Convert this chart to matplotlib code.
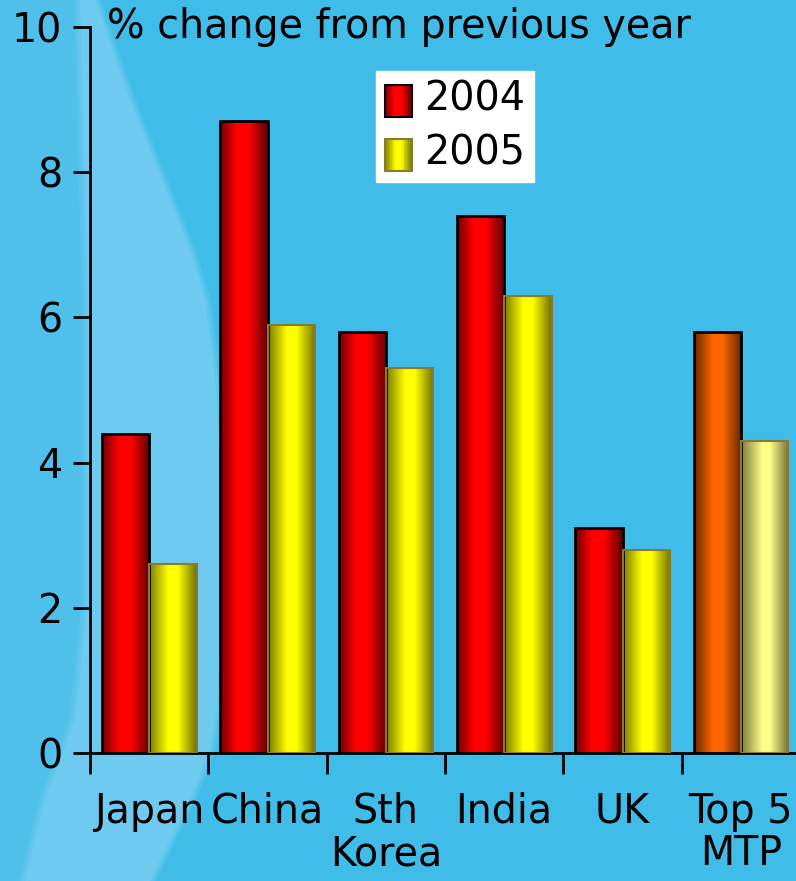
import numpy as np
import matplotlib
matplotlib.use("Agg")
import matplotlib.pyplot as plt
from matplotlib.colors import LinearSegmentedColormap
from matplotlib.patches import Rectangle
from matplotlib.legend_handler import HandlerBase

# data
categories = ["Japan", "China", "Sth\nKorea", "India", "UK", "Top 5\nMTP"]
vals_2004 = [4.4, 8.7, 5.8, 7.4, 3.1, 5.8]
vals_2005 = [2.6, 5.9, 5.3, 6.3, 2.8, 4.3]

# shading colours (edge, highlight)
red_cm = LinearSegmentedColormap.from_list("r", [(0, "#6e0000"), (0.35, "#ff0000"), (0.6, "#ff0000"), (1, "#5a0000")])
yel_cm = LinearSegmentedColormap.from_list("y", [(0, "#7a7a00"), (0.4, "#ffff00"), (0.6, "#ffff00"), (1, "#6e6e00")])
org_cm = LinearSegmentedColormap.from_list("o", [(0, "#6a2a00"), (0.4, "#ff6600"), (0.6, "#ff6600"), (1, "#5e2400")])
pal_cm = LinearSegmentedColormap.from_list("p", [(0, "#7a7a3a"), (0.45, "#ffff88"), (0.6, "#ffff88"), (1, "#707038")])

bg = "#40bce8"
fig = plt.figure(figsize=(7.96, 8.81), dpi=100, facecolor=bg)

# background swoosh (pixel coords)
axbg = fig.add_axes([0, 0, 1, 1], zorder=-5)
axbg.set_xlim(0, 796)
axbg.set_ylim(881, 0)
axbg.axis("off")
ys = np.linspace(0, 881, 300)
left_edge = np.interp(ys, [0, 300, 600, 720, 800, 881], [80, 88, 88, 75, 45, 25])
right_edge = np.interp(ys, [0, 50, 100, 150, 200, 250, 300, 375, 450, 600, 700, 750, 800, 840, 881],
                       [95, 112, 130, 150, 170, 190, 205, 215, 220, 222, 218, 210, 190, 170, 150])
axbg.fill_betweenx(ys, 0, right_edge, color="#4ec0ea", lw=0)
for d, a in [(6, 0.35), (3, 0.5), (0, 1.0)]:
    axbg.fill_betweenx(ys, left_edge - d, right_edge + d, color="#6ecbef", alpha=a, lw=0)

ax = fig.add_axes([90/796, 1-753/881, 710/796, (753-27)/881])
ax.set_facecolor("none")

x = np.arange(len(categories)) + 0.5
w = 0.4
grad = np.linspace(0, 1, 256).reshape(1, -1)

def shade(bars, cmaps, edge, lw):
    for b, cm in zip(bars, cmaps):
        x0, y0 = b.get_x(), b.get_y()
        im = ax.imshow(grad, cmap=cm, aspect="auto", zorder=2,
                       extent=(x0, x0 + b.get_width(), y0, y0 + b.get_height()))
        im.set_clip_path(b)
        b.set_facecolor("none")
        b.set_edgecolor(edge)
        b.set_linewidth(lw)
        b.set_zorder(3)

b1 = ax.bar(x - w/2, vals_2004, w)
b2 = ax.bar(x + w/2, vals_2005, w)
shade(b1, [red_cm]*5 + [org_cm], "black", 2)
shade(b2, [yel_cm]*5 + [pal_cm], "#8a7a30", 1.5)
ax.set_xlim(0, 6)
ax.set_ylim(0, 10)

for s in ["top", "right"]:
    ax.spines[s].set_visible(False)
for s in ["left", "bottom"]:
    ax.spines[s].set_linewidth(2)

fs = 28.5
ax.set_yticks([0, 2, 4, 6, 8, 10])
ax.tick_params(axis="y", length=12, width=2, labelsize=fs, pad=8)
ax.set_xticks(np.arange(0, 7))
ax.set_xticklabels([])
ax.tick_params(axis="x", which="major", length=15, width=2)
ax.set_xticks(x, minor=True)
ax.set_xticklabels(categories, minor=True, fontsize=fs, linespacing=1.08)
ax.tick_params(axis="x", which="minor", length=0, pad=28)

ax.text(0.024, 1.0, "% change from previous year", transform=ax.transAxes,
        fontsize=fs, va="center", ha="left")

class GradHandler(HandlerBase):
    def __init__(self, cm, edge):
        super().__init__()
        self.cm, self.edge = cm, edge
    def create_artists(self, legend, orig, xd, yd, width, height, fontsize, trans):
        arts = []
        n = 20
        for i in range(n):
            arts.append(Rectangle((xd + width*i/n, yd - 3), width/n + 0.3, height + 6,
                                  facecolor=self.cm((i + 0.5)/n), lw=0, transform=trans))
        arts.append(Rectangle((xd, yd - 3), width, height + 6, facecolor="none",
                              edgecolor=self.edge, lw=1.5, transform=trans))
        return arts

h1 = Rectangle((0, 0), 1, 1)
h2 = Rectangle((0, 0), 1, 1)
leg = fig.legend([h1, h2], ["2004", "2005"], loc="upper left",
                 bbox_to_anchor=(376/796, 1-71/881), fontsize=fs,
                 handler_map={h1: GradHandler(red_cm, "black"), h2: GradHandler(yel_cm, "#8a7a30")},
                 frameon=True, fancybox=False, framealpha=1, edgecolor="white",
                 handlelength=0.7, handleheight=0.55, handletextpad=0.3,
                 borderpad=0.22, labelspacing=0.35, borderaxespad=0)

fig.savefig("out.png", dpi=100, facecolor=bg)
